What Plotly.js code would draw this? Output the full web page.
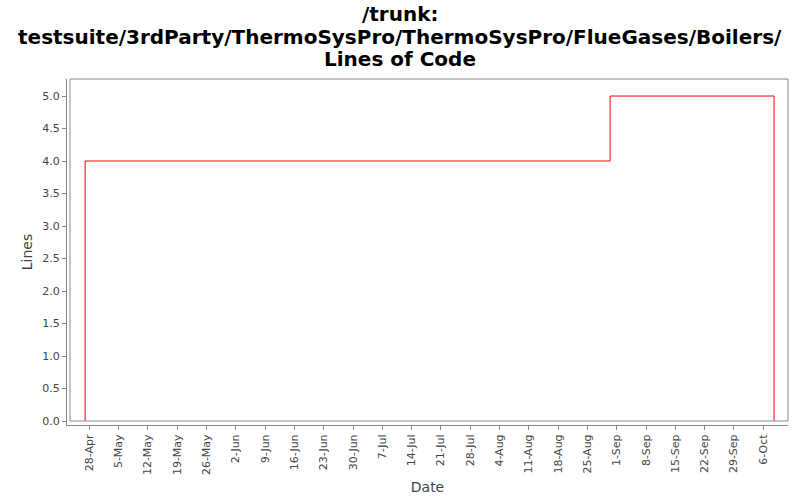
<!DOCTYPE html>
<html>
<head>
<meta charset="utf-8">
<script src="https://cdn.plot.ly/plotly-3.0.1.min.js"></script>
<style>html,body{margin:0;padding:0;background:#fff;}#chart{width:800px;height:500px;}</style>
</head>
<body>
<div id="chart"></div>
<script>
// Data
const stepDates = ['2008-04-27', '2008-04-27', '2008-08-30 10:00', '2008-10-08 14:00'];
const stepLines = [0, 4, 5, 0];
const tickDates = ['2008-04-28','2008-05-05','2008-05-12','2008-05-19','2008-05-26','2008-06-02','2008-06-09','2008-06-16','2008-06-23','2008-06-30','2008-07-07','2008-07-14','2008-07-21','2008-07-28','2008-08-04','2008-08-11','2008-08-18','2008-08-25','2008-09-01','2008-09-08','2008-09-15','2008-09-22','2008-09-29','2008-10-06'];
const tickLabels = ['28-Apr','5-May','12-May','19-May','26-May','2-Jun','9-Jun','16-Jun','23-Jun','30-Jun','7-Jul','14-Jul','21-Jul','28-Jul','4-Aug','11-Aug','18-Aug','25-Aug','1-Sep','8-Sep','15-Sep','22-Sep','29-Sep','6-Oct'];
const yTicks = [0,0.5,1,1.5,2,2.5,3,3.5,4,4.5,5];
const yLabels = ['0.0','0.5','1.0','1.5','2.0','2.5','3.0','3.5','4.0','4.5','5.0'];
const titleLines = ['/trunk:', 'testsuite/3rdParty/ThermoSysPro/ThermoSysPro/FlueGases/Boilers/', 'Lines of Code'];

const trace = {
  x: stepDates, y: stepLines, type: 'scatter', mode: 'lines',
  line: {color: '#ff0000', width: 1, shape: 'hv'},
  hoverinfo: 'skip'
};

// plot area: x 67..788, y 79..425 ; frame 70..788 x 79..421
const W = 721, H = 346, BOTTOM = 425;
const titleY = [14, 36.5, 59];
const annotations = titleLines.map((t, i) => ({
  text: '<b>' + t + '</b>', xref: 'paper', yref: 'paper',
  x: (400 - 67) / W, y: (BOTTOM - titleY[i]) / H,
  xanchor: 'center', yanchor: 'middle', showarrow: false,
  font: {family: 'DejaVu Sans', size: 20, color: '#000000'}
}));

const layout = {
  width: 800, height: 500,
  margin: {l: 67, r: 12, t: 79, b: 75},
  paper_bgcolor: '#ffffff', plot_bgcolor: '#ffffff',
  font: {family: 'DejaVu Sans', color: '#444444'},
  showlegend: false,
  annotations: annotations,
  xaxis: {
    type: 'date',
    range: ['2008-04-22 16:00', '2008-10-11 22:00'],
    tickvals: tickDates, ticktext: tickLabels,
    tickangle: -90,
    tickfont: {family: 'DejaVu Sans', size: 11, color: '#444444'},
    ticks: 'outside', ticklen: 4, tickcolor: '#888888', tickwidth: 1,
    showline: true, linecolor: '#888888', linewidth: 1,
    showgrid: false, zeroline: false,
    title: {text: 'Date', font: {family: 'DejaVu Sans', size: 14, color: '#444444'}, standoff: 8}
  },
  yaxis: {
    range: [-0.0615, 5.262],
    tickvals: yTicks, ticktext: yLabels,
    tickfont: {family: 'DejaVu Sans', size: 11, color: '#444444'},
    ticks: 'outside', ticklen: 4, tickcolor: '#888888', tickwidth: 1,
    showline: true, linecolor: '#888888', linewidth: 1,
    showgrid: false, zeroline: false,
    title: {text: 'Lines', font: {family: 'DejaVu Sans', size: 14, color: '#444444'}, standoff: 6}
  },
  shapes: [{
    type: 'rect', xref: 'paper', yref: 'paper',
    x0: 3 / W, x1: 1, y0: 4 / H, y1: 1,
    line: {color: '#888888', width: 1}, fillcolor: 'rgba(0,0,0,0)', layer: 'above'
  }]
};

Plotly.newPlot('chart', [trace], layout, {displayModeBar: false, staticPlot: true});
</script>
</body>
</html>
